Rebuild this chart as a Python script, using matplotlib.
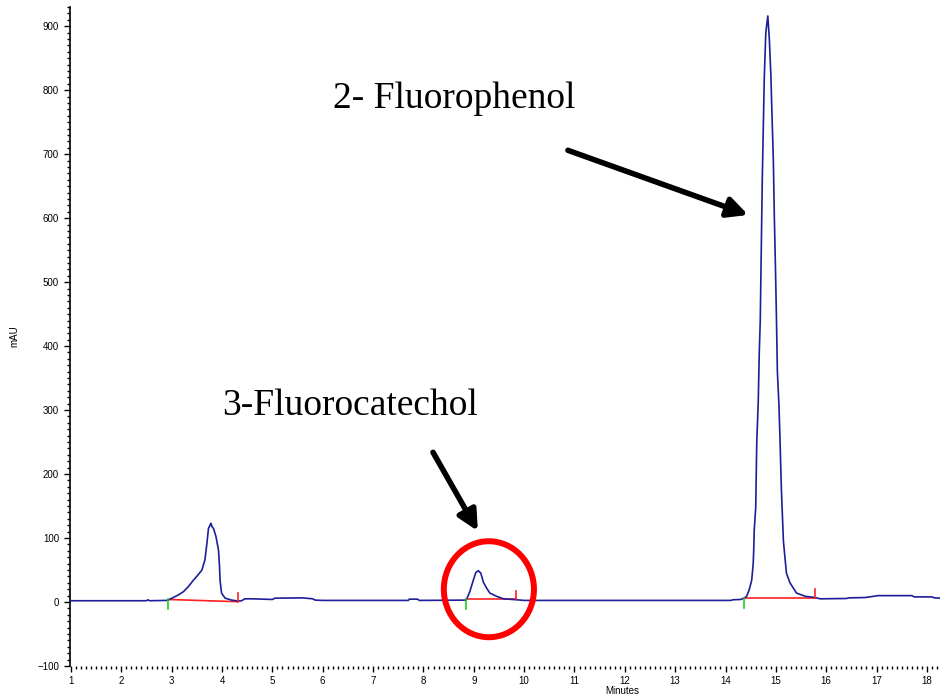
import matplotlib
matplotlib.use("Agg")
import matplotlib.pyplot as plt
from matplotlib.patches import Ellipse
from matplotlib.ticker import MultipleLocator, FixedLocator

# --- chromatogram trace (minutes, mAU) ---
time_min = [1.0, 2.5, 2.53, 2.56, 2.9, 2.93, 3.03, 3.13, 3.23, 3.33, 3.43, 3.53, 3.60, 3.66,
            3.70, 3.73, 3.76, 3.78, 3.80, 3.83, 3.88, 3.93, 3.95, 3.96, 3.99, 4.06, 4.19,
            4.32, 4.39, 4.45, 4.6, 5.0, 5.05, 5.6, 5.8, 5.85, 6.0, 7.7, 7.72, 7.88, 7.92,
            8.85, 8.92, 8.99, 9.04, 9.09, 9.14, 9.19, 9.26, 9.32, 9.45, 9.59, 9.85, 10.0,
            14.1, 14.15, 14.3, 14.37, 14.42, 14.47, 14.52, 14.55, 14.56, 14.57, 14.60,
            14.62, 14.65, 14.67, 14.69, 14.71, 14.73, 14.75, 14.77, 14.80, 14.84, 14.87,
            14.90, 14.92, 14.95, 14.97, 14.99, 15.01, 15.03, 15.06, 15.08, 15.11, 15.15,
            15.21, 15.28, 15.41, 15.58, 15.78, 15.88, 16.4, 16.45, 16.77, 17.03, 17.7,
            17.75, 18.1, 18.15, 18.27]
mau = [2, 2, 3.5, 2, 2.5, 3, 7, 11, 16, 24, 34, 43, 50, 66,
       92, 115, 120, 123, 118, 115, 102, 81, 55, 34, 14, 6, 3,
       1.5, 2, 5, 5, 4, 6, 6.5, 5, 3, 2.5, 2.5, 4.5, 4.5, 2.5,
       3, 16, 34, 46, 49, 45, 31, 21, 14, 9, 5, 3.5, 2.5,
       2.5, 3.5, 4, 6, 9, 19, 34, 60, 81, 112, 148,
       248, 313, 389, 440, 550, 660, 740, 820, 890, 916, 880,
       825, 770, 690, 600, 530, 450, 360, 310, 260, 175, 95,
       45, 30, 14, 9, 7, 5, 5.5, 6.5, 7, 10, 10,
       8, 8, 6.5, 6]

# integration events: (start, end, baseline at start, baseline at end)
peak_start = [2.93, 8.85, 14.37]
peak_end = [4.31, 9.84, 15.78]
base_start = [4, 4, 6]
base_end = [0.5, 4, 6]

x_ticks = list(range(1, 19))
y_ticks = list(range(-100, 1000, 100))

fig = plt.figure(figsize=(9.42, 6.98), dpi=100)
ax = fig.add_axes([69.5 / 942, 1 - 666 / 698, (940 - 69.5) / 942, (666 - 7) / 698])

ax.plot(time_min, mau, color='#1e1e9a', lw=1.2, zorder=3)

for s, e, bs, be in zip(peak_start, peak_end, base_start, base_end):
    ax.plot([s, e], [bs, be], color='#ff2020', lw=1.2, zorder=2)
    ax.plot([s, s], [bs, bs - 15], color='#22cc22', lw=1.2, zorder=4)
    ax.plot([e, e], [be, be + 14], color='#ff2020', lw=1.2, zorder=4)

ax.set_xlim(0.97, 18.26)
ax.set_ylim(-100, 930)

ax.xaxis.set_major_locator(FixedLocator(x_ticks))
ax.xaxis.set_minor_locator(MultipleLocator(0.1))
ax.yaxis.set_major_locator(FixedLocator(y_ticks))
ax.yaxis.set_minor_locator(MultipleLocator(10))

for side in ['top', 'right', 'bottom']:
    ax.spines[side].set_visible(False)
ax.spines['left'].set_linewidth(1.2)

ax.tick_params(axis='both', which='major', length=4, width=1, labelsize=7, direction='out')
ax.tick_params(axis='both', which='minor', length=2, width=1, direction='out')
for lab in ax.get_xticklabels() + ax.get_yticklabels():
    lab.set_fontfamily('Liberation Sans')

ax.set_ylabel('mAU', fontsize=7, family='Liberation Sans')
ax.yaxis.set_label_coords(-0.057, 0.5)
ax.set_xlabel('Minutes', fontsize=7, family='Liberation Sans')
ax.xaxis.set_label_coords((622 - 69.5) / (940 - 69.5), -0.031)

# annotations
ax.text(6.20, 772, '2- Fluorophenol', family='Liberation Serif', fontsize=27, va='baseline', ha='left')
ax.text(4.00, 293, '3-Fluorocatechol', family='Liberation Serif', fontsize=27, va='baseline', ha='left')

ax.annotate('', xy=(14.45, 605), xytext=(10.87, 706),
            arrowprops=dict(arrowstyle='-|>', lw=4, color='black', mutation_scale=30,
                            shrinkA=0, shrinkB=0))
ax.annotate('', xy=(9.08, 111), xytext=(8.19, 234),
            arrowprops=dict(arrowstyle='-|>', lw=4, color='black', mutation_scale=30,
                            shrinkA=0, shrinkB=0))

ax.add_patch(Ellipse((9.30, 20), 1.79, 150, fill=False, edgecolor='#ff0000', lw=4.3, zorder=5))

fig.savefig('out.png', dpi=100)
